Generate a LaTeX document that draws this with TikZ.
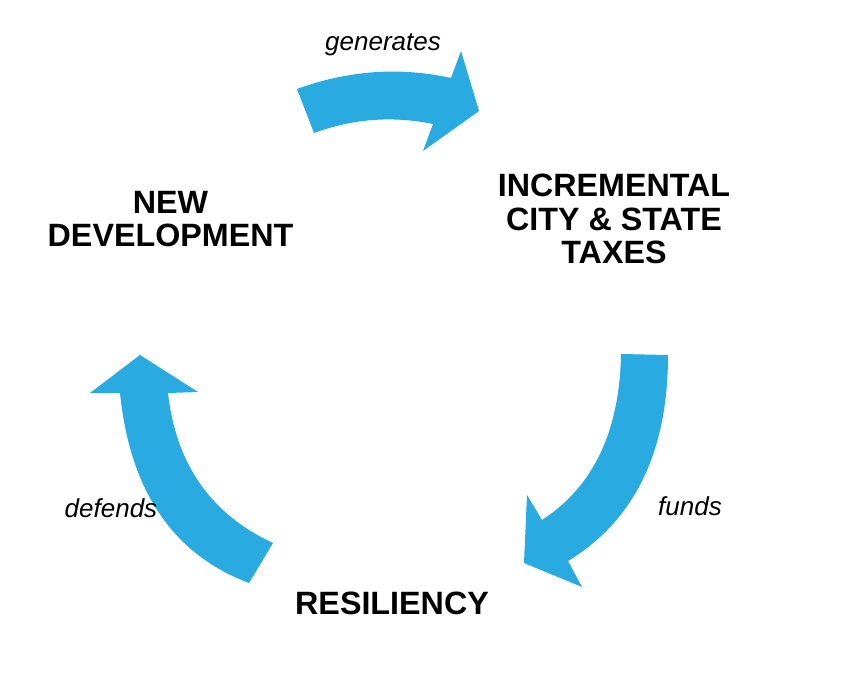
\documentclass[tikz,border=0pt]{standalone}
\usepackage{fontspec}
\setmainfont{Liberation Sans}
\definecolor{arrowblue}{RGB}{41,171,226}
\begin{document}
\begin{tikzpicture}[x=0.75pt,y=-0.75pt,
  blockarrow/.style={fill=arrowblue,draw=none},
  bigtext/.style={font=\fontsize{24.2}{25}\selectfont\bfseries,align=center,text=black,inner sep=0pt},
  verbtext/.style={font=\fontsize{19.5}{22}\selectfont\itshape,text=black,inner sep=0pt}]
\useasboundingbox[fill=white] (0,0) rectangle (854,688);
% top arrow: generates
\fill[blockarrow] (297,89) .. controls (348.3,70.3) and (399.7,66.7) .. (451,78)
  -- (461,51) -- (479,111) -- (423,151) -- (433,124)
  .. controls (392.7,115.7) and (353,118.7) .. (314,133) -- cycle;
% right arrow: funds
\fill[blockarrow] (621,354) -- (668,355)
  .. controls (668,451.7) and (634.7,520.3) .. (568,561)
  -- (582,587) -- (524,563) -- (527,495) -- (542,520)
  .. controls (593.3,486.7) and (619.7,431.3) .. (621,354) -- cycle;
% left arrow: defends
\fill[blockarrow] (273,543) -- (249,583)
  .. controls (173,554.3) and (130,491) .. (120,393)
  -- (90,393) -- (140,355) -- (198,392) -- (168,393)
  .. controls (176,464.3) and (211,514.3) .. (273,543) -- cycle;
% labels
\node[bigtext] (newdev) at (170.5,219) {NEW\\DEVELOPMENT};
\node[bigtext] (taxes) at (614,219) {INCREMENTAL\\CITY \& STATE\\TAXES};
\node[bigtext] (resil) at (392,603) {RESILIENCY};
\node[verbtext] (gen) at (383,45) {generates};
\node[verbtext] (funds) at (690,506) {funds};
\node[verbtext] (def) at (111,508) {defends};
\end{tikzpicture}
\end{document}
